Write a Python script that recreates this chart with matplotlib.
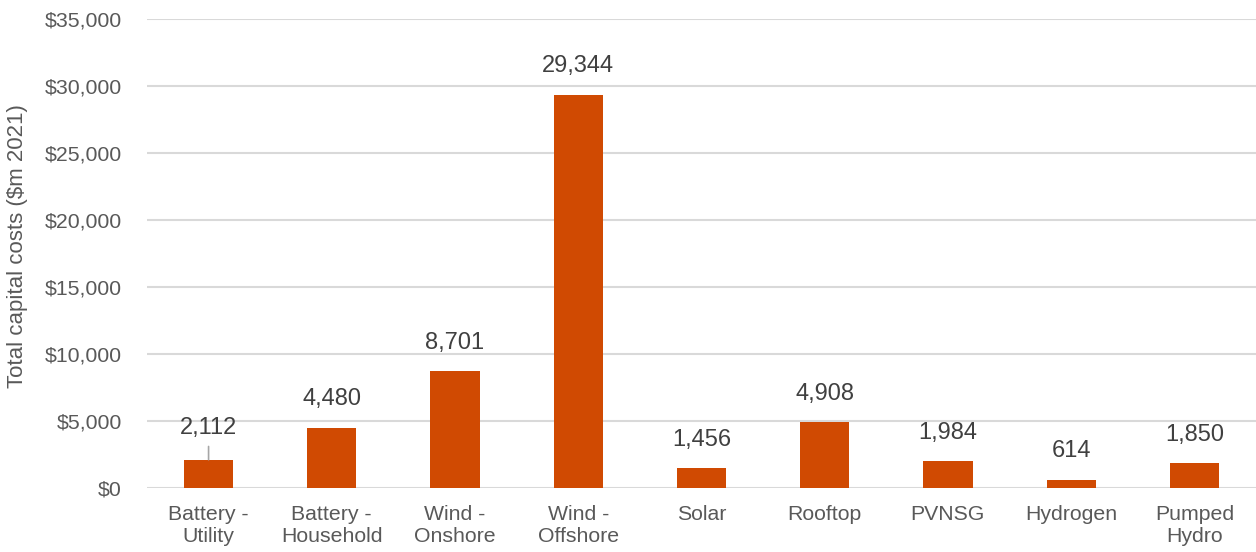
import matplotlib
matplotlib.use('Agg')

import matplotlib.pyplot as plt
from matplotlib.ticker import FuncFormatter

plt.rcParams['font.family'] = ['Liberation Sans', 'DejaVu Sans']

# === 数据 ===
categories = ['Battery -\nUtility', 'Battery -\nHousehold', 'Wind -\nOnshore', 'Wind -\nOffshore',
              'Solar', 'Rooftop', 'PVNSG', 'Hydrogen', 'Pumped\nHydro']
costs = [2112, 4480, 8701, 29344, 1456, 4908, 1984, 614, 1850]
y_ticks = [0, 5000, 10000, 15000, 20000, 25000, 30000, 35000]

bar_color = '#D04A02'
grid_color = '#D9D9D9'
tick_color = '#595959'
label_color = '#404040'

fig = plt.figure(figsize=(12.56, 5.52), dpi=100)
ax = fig.add_axes([0.117, 0.116, 0.883, 0.8496])

x = list(range(len(categories)))
ax.bar(x, costs, width=0.4, color=bar_color, zorder=3)

ax.set_xlim(-0.5, len(categories) - 0.5)
ax.set_ylim(0, 35000)
ax.set_yticks(y_ticks)
ax.yaxis.set_major_formatter(FuncFormatter(lambda v, p: f"${v:,.0f}"))
ax.set_xticks(x)
ax.set_xticklabels(categories, fontsize=15.3, color=tick_color, linespacing=1.25)
ax.tick_params(axis='y', labelsize=15.3, labelcolor=tick_color, length=0, pad=18)
ax.tick_params(axis='x', length=0, pad=12)

ax.grid(axis='y', color=grid_color, linewidth=1.5, zorder=0)
for s in ax.spines.values():
    s.set_visible(False)

ax.set_ylabel('Total capital costs ($m 2021)', fontsize=16, color=tick_color)
ax.yaxis.set_label_coords(-0.107, 0.516)

# === 数据标签 ===
for i, v in enumerate(costs):
    if i == 0:
        # 第一个标签抬高，加引线
        ax.annotate(f"{v:,}", xy=(i, v), xytext=(0, 22.5), textcoords='offset points',
                    ha='center', va='center', fontsize=17, color=label_color)
        ax.annotate('', xy=(i, v), xytext=(0, 9.5), textcoords='offset points',
                    arrowprops=dict(arrowstyle='-', color='#A6A6A6', lw=1.2,
                                    shrinkA=0, shrinkB=0))
    else:
        ax.annotate(f"{v:,}", xy=(i, v), xytext=(0, 20.5), textcoords='offset points',
                    ha='center', va='center', fontsize=17, color=label_color)

fig.savefig('out.png', dpi=100)
